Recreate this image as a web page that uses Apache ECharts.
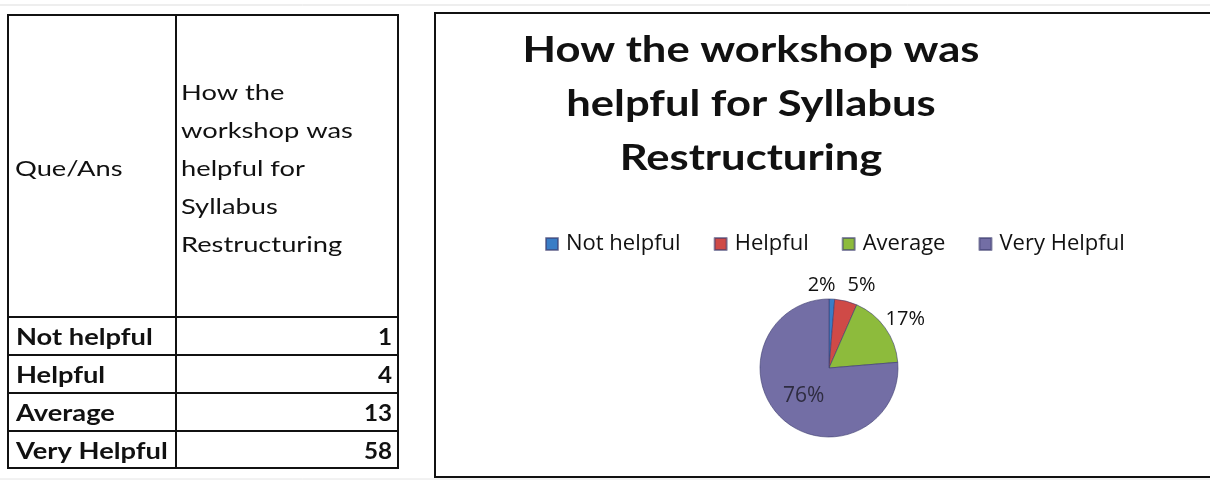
<!DOCTYPE html>
<html>
<head>
<meta charset="utf-8">
<script src="https://cdn.jsdelivr.net/npm/echarts@6/dist/echarts.min.js"></script>
<style>
  html, body { margin: 0; padding: 0; background: #fff; }
  #chart { width: 1210px; height: 486px; }
</style>
</head>
<body>
<div id="chart"></div>
<script>
// answers and counts, as in the sheet
const categories = ['Not helpful', 'Helpful', 'Average', 'Very Helpful'];
const counts = [1, 4, 13, 58];
// percentage labels as printed on the pie
const pctLabels = ['2%', '5%', '17%', '76%'];
const colHeader = ['How the', 'workshop was', 'helpful for', 'Syllabus', 'Restructuring'];
const titleLines = ['How the workshop was', 'helpful for Syllabus', 'Restructuring'];

const colors = ['#3a7dc6', '#cf4a47', '#8dbb3c', '#736ea5'];
const font = 'Lato, "Open Sans", sans-serif';
const pieCenter = [829, 368];
const pieR = 69;
const labelFont = '20px "Open Sans", sans-serif';

// place outside labels next to the slice edge, the way Excel's best fit does
function outsideLabels() {
    const total = counts.reduce(function (a, b) { return a + b; }, 0);
    const ctx = document.createElement('canvas').getContext('2d');
    ctx.font = labelFont;
    const h = 20, gap = 5, sep = 12;
    let acc = 0, prev = null;
    return counts.map(function (v, i) {
        const t = (acc + v / 2) / total * Math.PI * 2;
        acc += v;
        const w = ctx.measureText(pctLabels[i]).width;
        const s = Math.sin(t), c = Math.cos(t);
        const cur = {
            x: pieCenter[0] + (pieR + gap) * s + s * w / 2,
            y: pieCenter[1] - (pieR + gap) * c - c * h / 2,
            w: w
        };
        // split the overlap between two neighbours on the same line
        if (prev && Math.abs(cur.y - prev.y) < h) {
            const o = (prev.x + prev.w / 2 + sep) - (cur.x - w / 2);
            if (o > 0) {
                prev.x -= o / 2;
                cur.x += o / 2;
                cur.y = prev.y = (cur.y + prev.y) / 2;
            }
        }
        prev = cur;
        return cur;
    });
}

(function () {
    const myChart = echarts.init(document.getElementById('chart'));
    const labelPos = outsideLabels();

    // table drawn with graphic elements
    const tx0 = 8, tx1 = 176, tx2 = 398;
    const rowY = [317, 355, 393, 431, 468];
    const sx = 1.24;
    const g = [];
    g.push({ type: 'line', shape: { x1: 0, y1: 5, x2: 1210, y2: 5 }, style: { stroke: '#ddd', lineWidth: 1 } });
    g.push({ type: 'line', shape: { x1: 0, y1: 479, x2: 1210, y2: 479 }, style: { stroke: '#e4e4e4', lineWidth: 1 } });
    g.push({ type: 'rect', shape: { x: tx0, y: 15, width: tx2 - tx0, height: rowY[4] - 15 },
        style: { fill: '#fff', stroke: '#111', lineWidth: 2 } });
    g.push({ type: 'line', shape: { x1: tx1, y1: 15, x2: tx1, y2: rowY[4] }, style: { stroke: '#111', lineWidth: 2 } });
    for (let i = 0; i < 4; i++) {
        g.push({ type: 'line', shape: { x1: tx0, y1: rowY[i], x2: tx2, y2: rowY[i] }, style: { stroke: '#111', lineWidth: 2 } });
    }
    g.push({ type: 'text', x: 15, y: 169, scaleX: sx, style: { text: 'Que/Ans', font: '22px ' + font, fill: '#111', verticalAlign: 'middle' } });
    colHeader.forEach(function (t, i) {
        g.push({ type: 'text', x: 181, y: 93 + i * 38, scaleX: sx, style: { text: t, font: '22px ' + font, fill: '#111', verticalAlign: 'middle' } });
    });
    categories.forEach(function (c, i) {
        const cy = (rowY[i] + rowY[i + 1]) / 2 + 2;
        g.push({ type: 'text', x: 16, y: cy, scaleX: sx, style: { text: c, font: 'bold 22px ' + font, fill: '#111', verticalAlign: 'middle' } });
        g.push({ type: 'text', x: 392, y: cy, scaleX: 1.1, style: { text: String(counts[i]), font: 'bold 22px ' + font, fill: '#111', align: 'right', verticalAlign: 'middle' } });
    });

    // chart area frame and title
    g.push({ type: 'rect', shape: { x: 435, y: 13, width: 800, height: 464 }, style: { fill: 'none', stroke: '#111', lineWidth: 2 } });
    titleLines.forEach(function (t, i) {
        g.push({ type: 'text', x: 751, y: 50 + i * 54, scaleX: 1.21, style: { text: t, font: 'bold 36px ' + font, fill: '#111', align: 'center', verticalAlign: 'middle' } });
    });

    const option = {
        color: colors,
        animation: false,
        graphic: { elements: g },
        legend: {
            data: categories,
            left: 540,
            top: 228,
            icon: 'rect',
            itemWidth: 12,
            itemHeight: 12,
            itemGap: 33,
            textStyle: { fontFamily: '"Open Sans", sans-serif', fontSize: 22, color: '#111', padding: [0, 0, 0, 3] }
        },
        series: [
            {
                type: 'pie',
                center: pieCenter,
                radius: pieR,
                startAngle: 90,
                clockwise: true,
                avoidLabelOverlap: false,
                data: categories.map(function (c, i) {
                    const item = { name: c, value: counts[i] };
                    if (i === 3) item.label = { position: 'inside', color: '#2e2c40', fontSize: 21 };
                    return item;
                }),
                label: {
                    formatter: function (p) { return pctLabels[p.dataIndex]; },
                    fontFamily: '"Open Sans", sans-serif',
                    fontSize: 20,
                    color: '#111'
                },
                labelLine: { show: false, length: 8, length2: 0 },
                labelLayout: function (p) {
                    if (p.dataIndex === 3) return { hideOverlap: false };
                    const q = labelPos[p.dataIndex];
                    return { x: q.x, y: q.y, align: 'center', verticalAlign: 'middle', hideOverlap: false };
                },
                itemStyle: { borderColor: 'rgba(60,60,110,0.6)', borderWidth: 1 }
            }
        ]
    };

    myChart.setOption(option);
    window.addEventListener('resize', function () {
        myChart.resize();
    });
})();
</script>
</body>
</html>
